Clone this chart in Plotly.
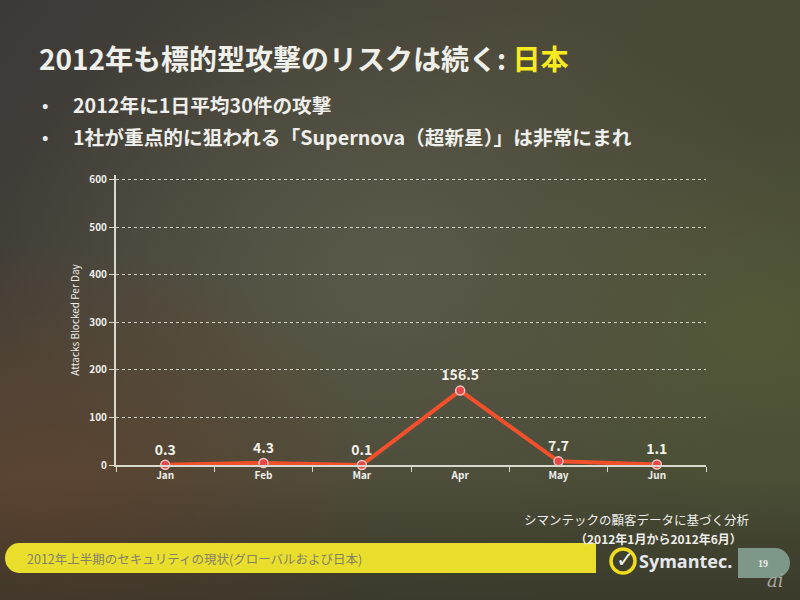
import base64
import plotly.graph_objects as go

months = ["Jan", "Feb", "Mar", "Apr", "May", "Jun"]
attacks = [0.3, 4.3, 0.1, 156.5, 7.7, 1.1]
value_labels = ["0.3", "4.3", "0.1", "156.5", "7.7", "1.1"]
y_ticks = [0, 100, 200, 300, 400, 500, 600]

title_white = "2012年も標的型攻撃のリスクは続く: "
title_yellow = "日本"
bullets = ["2012年に1日平均30件の攻撃",
           "1社が重点的に狙われる「Supernova（超新星）」は非常にまれ"]
footer_text = "2012年上半期のセキュリティの現状(グローバルおよび日本)"
source_lines = ["シマンテックの顧客データに基づく分析", "（2012年1月から2012年6月）"]

W, H = 800, 600
L, R, T, B = 116, 706, 175, 465
JP = "Noto Sans CJK JP"


def px(x):
    return (x - L) / (R - L)


def py(y):
    return (B - y) / (B - T)


bg_svg = """<svg xmlns='http://www.w3.org/2000/svg' width='800' height='600' viewBox='0 0 800 600' preserveAspectRatio='none'>
<defs>
<linearGradient id='g1' x1='0' y1='0' x2='1' y2='0.6'>
<stop offset='0' stop-color='#3d3938'/><stop offset='0.5' stop-color='#4a4738'/><stop offset='1' stop-color='#474b34'/>
</linearGradient>
<radialGradient id='g2' cx='0.5' cy='0.45' r='0.5'>
<stop offset='0' stop-color='#5c5b4b' stop-opacity='0.9'/><stop offset='1' stop-color='#5c5b4b' stop-opacity='0'/>
</radialGradient>
<radialGradient id='g3' cx='0.05' cy='0.85' r='0.45'>
<stop offset='0' stop-color='#5e4430' stop-opacity='0.95'/><stop offset='1' stop-color='#5e4430' stop-opacity='0'/>
</radialGradient>
<radialGradient id='g4' cx='0.95' cy='0.55' r='0.35'>
<stop offset='0' stop-color='#555b38' stop-opacity='0.8'/><stop offset='1' stop-color='#555b38' stop-opacity='0'/>
</radialGradient>
<linearGradient id='g5' x1='0' y1='0' x2='0' y2='1'>
<stop offset='0.8' stop-color='#2e2a22' stop-opacity='0'/><stop offset='1' stop-color='#2e2a22' stop-opacity='0.5'/>
</linearGradient>
</defs>
<rect width='800' height='600' fill='url(#g1)'/>
<rect width='800' height='600' fill='url(#g2)'/>
<rect width='800' height='600' fill='url(#g3)'/>
<rect width='800' height='600' fill='url(#g4)'/>
<rect width='800' height='600' fill='url(#g5)'/>
</svg>"""
bg_uri = "data:image/svg+xml;base64," + base64.b64encode(bg_svg.encode()).decode()

fig = go.Figure()
fig.add_trace(go.Scatter(
    x=months, y=attacks, mode="lines+markers+text",
    text=value_labels, textposition="top center",
    textfont=dict(family=JP, size=14, color="#f2f2ea", weight="bold"),
    line=dict(color="#f0502a", width=4),
    marker=dict(size=9, color="#e8474a", line=dict(color="#f6c6c0", width=1.5)),
    cliponaxis=False, hoverinfo="skip", showlegend=False,
))

shapes = []
y0, y1 = py(573), py(543)
shapes.append(dict(type="rect", xref="paper", yref="paper", x0=px(18), x1=px(596), y0=y0, y1=y1,
                   fillcolor="#e9de2c", line=dict(width=0), layer="below"))
shapes.append(dict(type="circle", xref="paper", yref="paper", x0=px(5), x1=px(33), y0=y0, y1=y1,
                   fillcolor="#e9de2c", line=dict(width=0), layer="below"))
shapes.append(dict(type="rect", xref="paper", yref="paper", x0=px(738), x1=px(775), y0=py(578), y1=py(548),
                   fillcolor="#7d9888", line=dict(width=0), layer="below"))
shapes.append(dict(type="circle", xref="paper", yref="paper", x0=px(760), x1=px(790), y0=py(578), y1=py(548),
                   fillcolor="#7d9888", line=dict(width=0), layer="below"))
shapes.append(dict(type="circle", xref="paper", yref="paper", x0=px(611), x1=px(635), y0=py(573), y1=py(549),
                   fillcolor="rgba(0,0,0,0)", line=dict(color="#f0dc1e", width=3.5)))

annotations = []
annotations.append(dict(xref="paper", yref="paper", x=px(37), y=py(58), xanchor="left", yanchor="middle",
                        showarrow=False,
                        text=f"<b>{title_white}</b><b><span style='color:#f7ea1e'>{title_yellow}</span></b>",
                        font=dict(family=JP, size=28, color="#f0f0ea")))
for i, b in enumerate(bullets):
    yy = py(104 + 32 * i)
    annotations.append(dict(xref="paper", yref="paper", x=px(40), y=yy, xanchor="left", yanchor="middle",
                            showarrow=False, text="<b>•</b>", font=dict(family=JP, size=17, color="#eeeeea")))
    annotations.append(dict(xref="paper", yref="paper", x=px(71), y=yy, xanchor="left", yanchor="middle",
                            showarrow=False, text=f"<b>{b}</b>", font=dict(family=JP, size=19.7, color="#eeeeea")))
annotations.append(dict(xref="paper", yref="paper", x=px(25), y=py(558), xanchor="left", yanchor="middle",
                        showarrow=False, text=footer_text, font=dict(family=JP, size=12.5, color="#85806a")))
annotations.append(dict(xref="paper", yref="paper", x=px(752), y=py(519), xanchor="right", yanchor="middle",
                        showarrow=False, text=source_lines[0], font=dict(family=JP, size=12.5, color="#eeeeea")))
annotations.append(dict(xref="paper", yref="paper", x=px(744), y=py(538), xanchor="right", yanchor="middle",
                        showarrow=False, text=f"<b>{source_lines[1]}</b>", font=dict(family=JP, size=12, color="#eeeeea")))
annotations.append(dict(xref="paper", yref="paper", x=px(625), y=py(559), xanchor="center", yanchor="middle",
                        showarrow=False, text="<b>✓</b>", font=dict(family="DejaVu Sans", size=22, color="#f4f4ee")))
annotations.append(dict(xref="paper", yref="paper", x=px(637), y=py(561), xanchor="left", yanchor="middle",
                        showarrow=False, text="<b>Symantec.</b>", font=dict(family="Open Sans", size=18, color="#e6e8ee")))
annotations.append(dict(xref="paper", yref="paper", x=px(763), y=py(563), xanchor="center", yanchor="middle",
                        showarrow=False, text="<b>19</b>", font=dict(family="Liberation Serif", size=10, color="#e8eee8")))
annotations.append(dict(xref="paper", yref="paper", x=px(775), y=py(580), xanchor="center", yanchor="middle",
                        showarrow=False, text="<i>ai</i>", font=dict(family="DejaVu Serif", size=18, color="#a8a8a0")))

fig.update_layout(
    width=W, height=H, autosize=False,
    margin=dict(l=L, r=W - R, t=T, b=H - B, pad=0),
    paper_bgcolor="#47412f", plot_bgcolor="rgba(0,0,0,0)",
    images=[dict(source=bg_uri, xref="paper", yref="paper", x=px(0), y=py(0),
                 sizex=W / (R - L), sizey=H / (B - T), xanchor="left", yanchor="top",
                 sizing="stretch", layer="below")],
    shapes=shapes, annotations=annotations,
    xaxis=dict(type="category", range=[-0.5, 5.5], showgrid=False, zeroline=False,
               showline=True, linecolor="#d8d8cc", linewidth=2,
               ticks="outside", tickson="boundaries", ticklen=5, tickcolor="#d8d8cc",
               tickfont=dict(family=JP, size=10, color="#eeeeea", weight="bold")),
    yaxis=dict(range=[0, 610], tickvals=y_ticks, showgrid=True,
               gridcolor="rgba(235,235,225,0.85)", griddash="dot", gridwidth=1,
               zeroline=False, showline=True, linecolor="#d8d8cc", linewidth=2,
               ticks="outside", ticklen=5, tickcolor="#d8d8cc",
               tickfont=dict(family=JP, size=10, color="#eeeeea", weight="bold"),
               title=dict(text="Attacks Blocked Per Day", standoff=8,
                          font=dict(family=JP, size=10, color="#eeeeea"))),
)

fig.write_html("out.html", config={"displayModeBar": False},
               post_script="document.body.style.margin='0px';")
